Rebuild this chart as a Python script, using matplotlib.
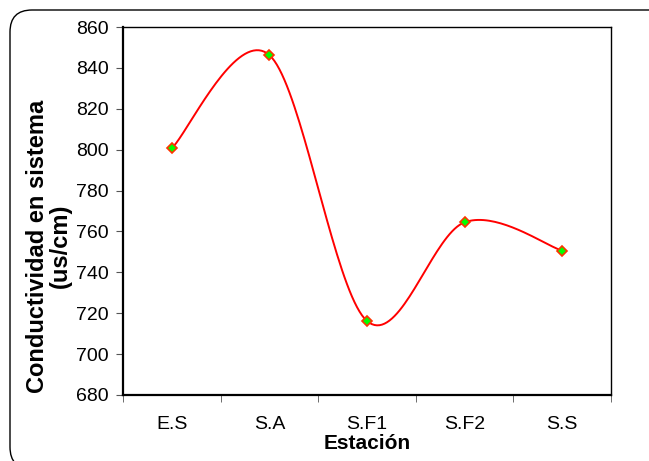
import numpy as np
import matplotlib.pyplot as plt
from matplotlib.patches import FancyBboxPatch
from matplotlib.transforms import IdentityTransform

plt.rcParams['font.family'] = ['Liberation Sans', 'DejaVu Sans']

estaciones = ['E.S', 'S.A', 'S.F1', 'S.F2', 'S.S']
conductividad = [800.7, 846.3, 716.2, 764.5, 750.6]


def suavizar(x, y, n=40):
    # curva suavizada tipo Excel (Catmull-Rom en forma de Bezier)
    px = np.concatenate([[x[0]], x, [x[-1]]])
    py = np.concatenate([[y[0]], y, [y[-1]]])
    t = np.linspace(0, 1, n)[:, None]
    xs, ys = [], []
    for i in range(1, len(px) - 2):
        p0 = np.array([px[i], py[i]])
        p3 = np.array([px[i + 1], py[i + 1]])
        p1 = p0 + (np.array([px[i + 1], py[i + 1]]) - np.array([px[i - 1], py[i - 1]])) / 6
        p2 = p3 - (np.array([px[i + 2], py[i + 2]]) - np.array([px[i], py[i]])) / 6
        b = ((1 - t) ** 3) * p0 + 3 * ((1 - t) ** 2) * t * p1 + 3 * (1 - t) * t ** 2 * p2 + t ** 3 * p3
        xs.append(b[:, 0])
        ys.append(b[:, 1])
    return np.concatenate(xs), np.concatenate(ys)


x = np.arange(len(estaciones), dtype=float)
y = np.array(conductividad)
xs, ys = suavizar(x, y)

fig = plt.figure(figsize=(6.49, 4.61), dpi=100)
ax = fig.add_axes([0.1895, 0.1432, 0.752, 0.798])

# marco redondeado del grafico (en pixeles, se sale por la derecha y abajo)
marco = FancyBboxPatch((10, -8), 670, 459,
                       boxstyle='round,pad=0,rounding_size=22',
                       transform=IdentityTransform(), fill=False,
                       edgecolor='black', linewidth=1.0, clip_on=False)
fig.patches.append(marco)

ax.plot(xs, ys, color='red', linewidth=1.4, zorder=2)
ax.plot(x, y, linestyle='none', marker='D', markersize=5.5,
        markerfacecolor='#00ff00', markeredgecolor='#ff3300',
        markeredgewidth=1.2, zorder=3)

ax.set_xlim(-0.5, len(estaciones) - 0.5)
ax.set_ylim(680, 860)
ax.set_yticks(np.arange(680, 861, 20))
ax.set_xticks(x)
ax.set_xticklabels(estaciones)
ax.set_xticks(np.arange(-0.5, len(estaciones), 1.0), minor=True)

ax.tick_params(axis='x', which='major', length=0, pad=15, labelsize=14)
ax.tick_params(axis='x', which='minor', length=5, direction='out', color='#555555')
ax.tick_params(axis='y', length=5, direction='out', color='#555555', labelsize=14, pad=5)

for lado in ['left', 'bottom']:
    ax.spines[lado].set_linewidth(1.6)
for lado in ['top', 'right']:
    ax.spines[lado].set_linewidth(1.0)

ax.set_xlabel('Estación', fontsize=15, fontweight='bold', labelpad=1)
ax.set_ylabel('Conductividad en sistema\n(us/cm)', fontsize=17,
              fontweight='bold', linespacing=1.0)
ax.yaxis.set_label_coords(-0.105, 0.405)

fig.savefig('out.png', dpi=100)
